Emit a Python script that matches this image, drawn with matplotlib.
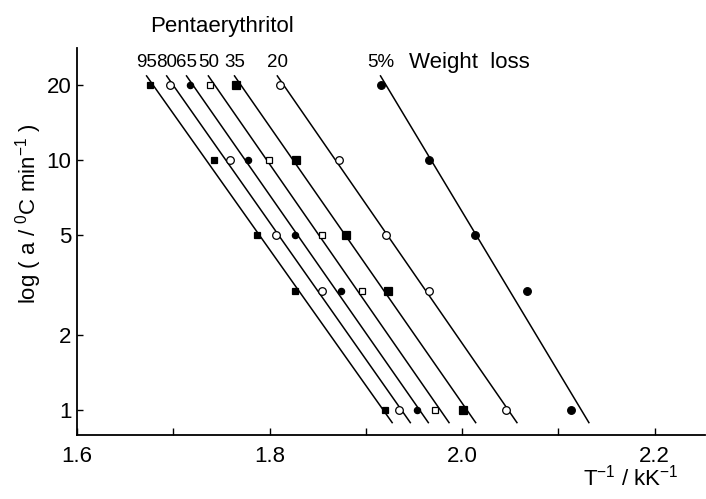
import numpy as np
import matplotlib
matplotlib.use("Agg")
import matplotlib.pyplot as plt

plt.rcParams["font.family"] = ["Liberation Sans", "DejaVu Sans"]
plt.rcParams["mathtext.default"] = "regular"

# heating rates (deg C / min) and 1/T (kK^-1), per weight loss level
rates = [20, 10, 5, 3, 1]
loss_labels = ["95", "80", "65", "50", "35", "20", "5%"]
inv_t = {
    "95": [1.6755, 1.7422, 1.7868, 1.8263, 1.9201],
    "80": [1.6962, 1.7592, 1.8062, 1.8540, 1.9349],
    "65": [1.7177, 1.7775, 1.8267, 1.8737, 1.9536],
    "50": [1.7377, 1.7990, 1.8547, 1.8962, 1.9723],
    "35": [1.7654, 1.8277, 1.8796, 1.9228, 2.0013],
    "20": [1.8111, 1.8719, 1.9214, 1.9653, 2.0457],
    "5%": [1.9159, 1.9661, 2.0138, 2.0670, 2.1134],
}
markers = {
    "95": ("s", "black", 5),
    "80": ("o", "white", 5.5),
    "65": ("o", "black", 4.5),
    "50": ("s", "white", 5),
    "35": ("s", "black", 5.5),
    "20": ("o", "white", 5.5),
    "5%": ("o", "black", 5.5),
}

fig = plt.figure(figsize=(7.06, 4.99), dpi=100)
ax = fig.add_axes([0.109, 0.128, 0.890, 0.776])

logr = np.log10(rates)
top, bot = 1.336, -0.05
for lab in loss_labels:
    x = np.array(inv_t[lab])
    b, a = np.polyfit(logr, x, 1)
    ax.plot([a + b * top, a + b * bot], [10 ** top, 10 ** bot], color="black", lw=1.1)
    m, fc, ms = markers[lab]
    ax.plot(x, rates, ls="none", marker=m, mfc=fc, mec="black", mew=0.9, ms=ms, zorder=3)
    ax.text(a + b * top, 10 ** 1.39, lab, ha="center", va="center", fontsize=13.5)

ax.text(2.0076, 10 ** 1.39, "Weight  loss", ha="center", va="center", fontsize=16)
fig.text(0.212, 0.946, "Pentaerythritol", ha="left", va="center", fontsize=16)

ax.set_yscale("log")
ax.set_xlim(1.6, 2.2525)
ax.set_ylim(10 ** -0.1, 10 ** 1.448)
ax.set_yticks([1, 2, 5, 10, 20])
ax.set_yticklabels(["1", "2", "5", "10", "20"])
ax.yaxis.set_minor_locator(matplotlib.ticker.NullLocator())
ax.set_xticks([1.6, 1.7, 1.8, 1.9, 2.0, 2.1, 2.2])
ax.set_xticklabels(["1.6", "", "1.8", "", "2.0", "", "2.2"])
ax.tick_params(axis="x", direction="in", length=5, width=1, pad=8, labelsize=16)
ax.tick_params(axis="y", direction="in", length=4, width=1, pad=4, labelsize=16)

for s in ["top", "right"]:
    ax.spines[s].set_visible(False)
for s in ["left", "bottom"]:
    ax.spines[s].set_linewidth(1.3)

ax.set_ylabel("log ( a / $^{0}$C min$^{-1}$ )", fontsize=16)
ax.yaxis.set_label_coords(-0.052, 0.571)
fig.text(0.893, 0.042, "T$^{-1}$ / kK$^{-1}$", ha="center", va="center", fontsize=16)

fig.savefig("out.png", dpi=100)
